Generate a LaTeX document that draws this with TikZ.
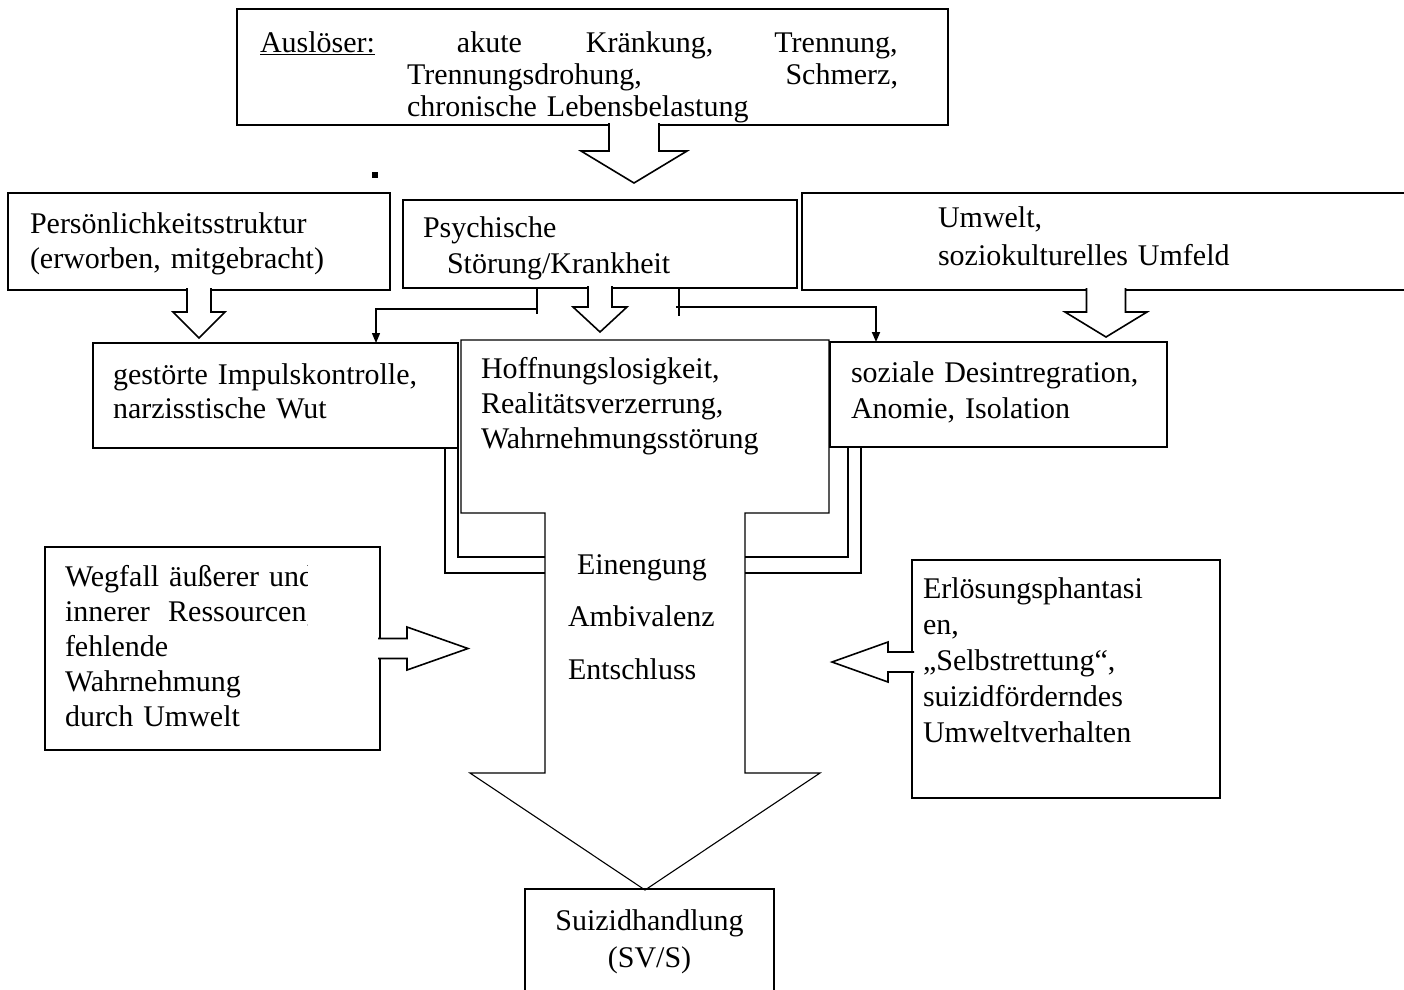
\documentclass[tikz,border=0pt]{standalone}
\usepackage{fontspec}
\setmainfont{Liberation Serif}
\usetikzlibrary{arrows.meta}

\begin{document}
\begin{tikzpicture}[x=1pt, y=-1pt, >={Triangle[length=10pt,width=8pt]}]
	\tikzset{kasten/.style={draw, line width=1.6pt, fill=white, rectangle, align=left, inner ysep=0pt, outer sep=0pt, anchor=base west, font=\fontsize{30}{35}\selectfont}}
	\tikzset{duenn/.style={line width=1.1pt}}
	\tikzset{hohlpfeil/.style={draw, line width=1.6pt, fill=white, line join=miter}}
	\tikzset{rohr/.style={line width=1.3pt}, verbinder/.style={->, line width=1.4pt}, stummel/.style={line width=2.2pt}}

	\useasboundingbox (0,0) rectangle (1404,989);
	\clip (0,0) rectangle (1404,989);

	%KAESTEN
	\node[kasten, inner xsep=23pt, text width=665pt, text height=43pt, text depth=73pt, font=\fontsize{30}{32}\selectfont] (ausl) at (237,52)
		{\underline{Auslöser:}\hspace{82pt}akute\hspace{64pt}Kränkung,\hspace{61pt}Trennung,\\\hspace*{147pt}\makebox[491pt][l]{Trennungsdrohung,\hfill Schmerz,}\\\hspace*{147pt}chronische Lebensbelastung};
	\node[fill, inner sep=0pt, minimum size=6pt] (punkt) at (375,175) {};
	\node[kasten, inner xsep=22pt, text width=338pt, text height=40pt, text depth=57pt] (pers) at (8,233)
		{Persönlichkeitsstruktur\\(erworben, mitgebracht)};
	\node[kasten, inner xsep=20pt, text width=354pt, text height=37pt, text depth=51pt, font=\fontsize{30}{36}\selectfont] (psych) at (403,237)
		{Psychische\\\hspace*{24pt}Störung/Krankheit};
	\node[kasten, inner xsep=136pt, text width=346pt, text height=34pt, text depth=63pt, font=\fontsize{30}{38}\selectfont] (umwelt) at (802,227)
		{Umwelt,\\soziokulturelles Umfeld};
	\node[kasten, duenn, inner xsep=20pt, text width=325pt, text height=41pt, text depth=64pt, font=\fontsize{30}{34}\selectfont] (impuls) at (93,384)
		{gestörte Impulskontrolle,\\narzisstische Wut};
	\node[kasten, duenn, inner xsep=21pt, text width=295pt, text height=40pt, text depth=65pt, font=\fontsize{30}{36}\selectfont] (desint) at (830,382)
		{soziale Desintregration,\\Anomie, Isolation};
	\node[kasten, draw=none, fill=none, inner xsep=20pt, text width=328pt, text height=38pt, text depth=135pt] (hoffnung) at (461,378)
		{Hoffnungslosigkeit,\\Realitätsverzerrung,\\Wahrnehmungsstörung};
	\node[kasten, duenn, align=center, inner xsep=10pt, text width=229pt, text height=41pt, text depth=70pt, font=\fontsize{30}{37}\selectfont] (suizid) at (525,930)
		{Suizidhandlung\\(SV/S)};
	\node[kasten, anchor=north west, inner sep=0pt, minimum width=335pt, minimum height=203pt] (wegfall) at (45,547) {};
	\begin{scope}
		\clip (wegfall.north west) rectangle ([xshift=262pt]wegfall.south west);
		\node[kasten, draw=none, fill=none, inner xsep=0pt, text width=300pt] (wegfalltext) at ([shift={(20,39)}]wegfall.north west)
			{Wegfall äußerer und\\\makebox[249pt][l]{innerer\hfill Ressourcen,}\\fehlende\\Wahrnehmung\\durch Umwelt};
	\end{scope}
	\node[kasten, inner xsep=11pt, text width=286pt, text height=38pt, text depth=200pt, font=\fontsize{30}{36}\selectfont] (erlos) at (912,598)
		{Erlösungsphantasi\\en,\\„Selbstrettung“,\\suizidförderndes\\Umweltverhalten};

	%PFEILE
	\draw[hohlpfeil] ([shift={(16.5,-2)}]ausl.south) -- ++(0,28) -- ++(-28,0) -- ++(53,32) -- ++(53,-32) -- ++(-28,0) -- ++(0,-28);
	\draw[hohlpfeil] ([shift={(-12,-2)}]pers.south) -- ++(0,24) -- ++(-14,0) -- ++(26,26) -- ++(26,-26) -- ++(-14,0) -- ++(0,-24);
	\draw[hohlpfeil] ([shift={(-12,-2)}]psych.south) -- ++(0,21) -- ++(-15,0) -- ++(27,25) -- ++(27,-25) -- ++(-15,0) -- ++(0,-21);
	\draw[hohlpfeil] ([shift={(-24.5,-2)}]umwelt.south) -- ++(0,24) -- ++(-21.5,0) -- ++(41,25) -- ++(41,-25) -- ++(-21.5,0) -- ++(0,-24);
	\draw[hohlpfeil] ([shift={(-2,-10)}]wegfall.east) -- ++(29,0) -- ++(0,-11.5) -- ++(61,21.5) -- ++(-61,21.5) -- ++(0,-11.5) -- ++(-29,0);
	\draw[hohlpfeil] ([shift={(2,-27)}]erlos.west) -- ++(-26,0) -- ++(0,-10) -- ++(-56,20) -- ++(56,20) -- ++(0,-10) -- ++(26,0);

	%GROSSER PFEIL
	\coordinate (schulterL) at ([xshift=84pt]hoffnung.south west);
	\coordinate (schulterR) at ([xshift=-84pt]hoffnung.south east);
	\draw[hohlpfeil, duenn, fill=none] (hoffnung.south west) -- (hoffnung.north west) -- (hoffnung.north east) -- (hoffnung.south east) -- (schulterR)
		-- ++(0,260) -- ++(75,0) -- ++(-175,117) -- ++(-175,-117) -- ++(75,0) -- (schulterL) -- cycle;
	\node[kasten, draw=none, fill=none, inner xsep=0pt, text width=170pt, font=\fontsize{30}{52.5}\selectfont] (kern) at (568,574)
		{\hspace*{9pt}Einengung\\Ambivalenz\\Entschluss};

	%ROHRE
	\draw[rohr] ([xshift=-13pt]impuls.south east) |- ([yshift=-60pt]schulterL);
	\draw[rohr] (impuls.south east) |- ([yshift=-44pt]schulterL);
	\draw[rohr] ([xshift=31pt]desint.south west) |- ([yshift=-60pt]schulterR);
	\draw[rohr] ([xshift=18pt]desint.south west) |- ([yshift=-44pt]schulterR);

	%VERBINDER
	\draw[stummel] ([xshift=-63pt]psych.south) -- ++(0,26);
	\draw[verbinder] ([shift={(-63,21)}]psych.south) -| ([xshift=283pt]impuls.north west);
	\draw[stummel] ([xshift=79pt]psych.south) -- ++(0,28);
	\draw[verbinder, line width=1.8pt] ([shift={(76,19)}]psych.south) -| ([xshift=46pt]desint.north west);
\end{tikzpicture}
\end{document}
